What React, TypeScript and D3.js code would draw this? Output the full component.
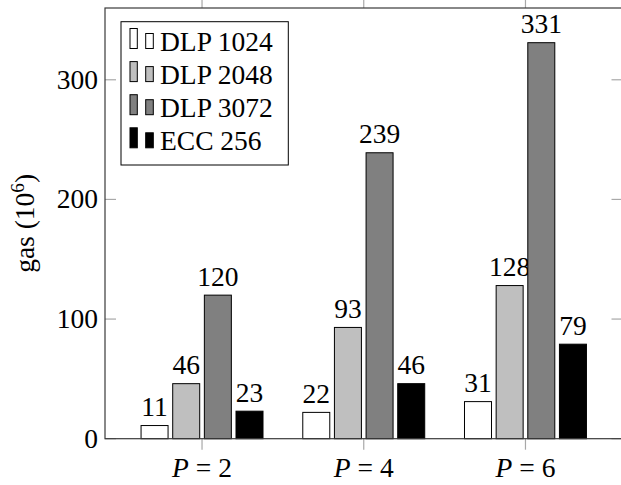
import React from "react";
import * as d3 from "d3";

const categories = [2, 4, 6];
const seriesNames = ["DLP 1024", "DLP 2048", "DLP 3072", "ECC 256"];
const dlp1024 = [11, 22, 31];
const dlp2048 = [46, 93, 128];
const dlp3072 = [120, 239, 331];
const ecc256 = [23, 46, 79];
const seriesValues = [dlp1024, dlp2048, dlp3072, ecc256];
const fills = ["#ffffff", "#bfbfbf", "#808080", "#000000"];
const yTicks = [0, 100, 200, 300];

const W = 621;
const H = 485;
const left = 105;
const right = 622.5;
const top = 8;
const bottom = 438.7;
const FONT = '"Liberation Serif", serif';
const FS = 27.5;

export default function App() {
  const x = d3.scaleLinear().domain([0.8, 7.2]).range([left, right]);
  const y = d3.scaleLinear().domain([0, 360]).range([bottom, top]);
  const inner = d3
    .scaleBand<number>()
    .domain(d3.range(seriesNames.length))
    .range([-63.3, 63.3])
    .paddingInner(0.147)
    .paddingOuter(0.0735);
  const bw = inner.bandwidth();
  const tickLen = 11;

  return (
    <svg
      width={W}
      height={H}
      style={{ position: "absolute", left: 0, top: 0, fontFamily: FONT }}
    >
      <rect x={0} y={0} width={W} height={H} fill="#fff" />
      {yTicks.map((t) => (
        <g key={t}>
          <line x1={left} x2={left + tickLen} y1={y(t)} y2={y(t)} stroke="#a8a8a8" strokeWidth={1.2} />
          <line x1={right - tickLen} x2={right} y1={y(t)} y2={y(t)} stroke="#a8a8a8" strokeWidth={1.2} />
          <text x={left - 7} y={y(t)} dy="0.33em" textAnchor="end" fontSize={FS} fill="#000">
            {t}
          </text>
        </g>
      ))}
      {categories.map((c) => (
        <g key={c}>
          <line x1={x(c)} x2={x(c)} y1={bottom} y2={bottom + tickLen} stroke="#a8a8a8" strokeWidth={1.2} />
          <line x1={x(c)} x2={x(c)} y1={top} y2={top - tickLen} stroke="#a8a8a8" strokeWidth={1.2} />
          <text x={x(c)} y={477} textAnchor="middle" fontSize={FS} fill="#000">
            <tspan fontStyle="italic">P</tspan>
            <tspan> = {c}</tspan>
          </text>
        </g>
      ))}
      {seriesValues.map((vals, si) =>
        vals.map((v, ci) => {
          const bx = x(categories[ci]) + (inner(si) as number);
          return (
            <g key={`${si}-${ci}`}>
              <rect
                x={bx}
                y={y(v)}
                width={bw}
                height={y(0) - y(v)}
                fill={fills[si]}
                stroke="#000"
                strokeWidth={1}
              />
              <text x={bx + bw / 2} y={y(v) - 9.5} textAnchor="middle" fontSize={FS} fill="#000">
                {v}
              </text>
            </g>
          );
        })
      )}
      <rect x={left} y={top} width={right - left} height={bottom - top} fill="none" stroke="#3a3a3a" strokeWidth={1.2} />
      <text
        transform={`translate(33.5, ${(top + bottom) / 2}) rotate(-90)`}
        textAnchor="middle"
        fontSize={FS}
        fill="#000"
      >
        gas (10
        <tspan fontSize={FS * 0.7} dy={-10}>6</tspan>
        <tspan dy={10}>)</tspan>
      </text>
      <g>
        <rect x={121} y={21.7} width={167.3} height={143.3} fill="#fff" stroke="#000" strokeWidth={1} />
        {seriesNames.map((name, i) => {
          const cy = 42 + i * 33.1;
          return (
            <g key={name}>
              <rect x={130} y={cy - 13.5} width={7.3} height={20} fill={fills[i]} stroke="#000" strokeWidth={1} />
              <rect x={145.7} y={cy - 8.5} width={7.6} height={15} fill={fills[i]} stroke="#000" strokeWidth={1} />
              <text x={160} y={cy + 9} fontSize={FS} fill="#000">
                {name}
              </text>
            </g>
          );
        })}
      </g>
    </svg>
  );
}
